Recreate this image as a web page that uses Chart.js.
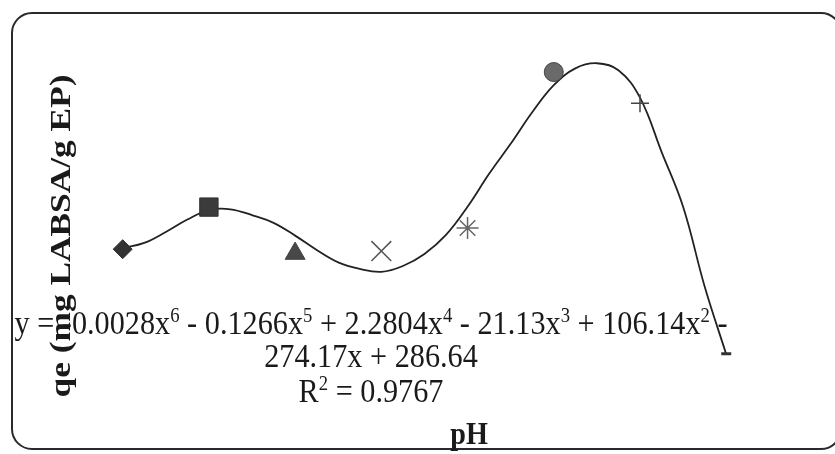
<!DOCTYPE html>
<html>
<head>
<meta charset="utf-8">
<script src="https://cdn.jsdelivr.net/npm/chart.js@4.4.1/dist/chart.umd.min.js"></script>
<style>
  html, body { margin: 0; padding: 0; background: #fff; }
  #wrap { position: relative; width: 835px; height: 454px; }
</style>
</head>
<body>
<div id="wrap"><canvas id="chart" width="835" height="454"></canvas></div>
<script>
// Экспериментальные точки: номер pH по порядку и qe
const phValues = [1, 2, 3, 4, 5, 6, 7, 8];
const qeValues = [4.64, 5.79, 4.52, 4.59, 5.22, 9.48, 8.63, 1.78];

// Линия тренда (полином 6-й степени)
const trendX = [1, 1.25, 1.5, 1.75, 2, 2.25, 2.5, 2.75, 3, 3.25, 3.5, 3.75, 4, 4.25, 4.5, 4.75,
  5, 5.25, 5.5, 5.75, 6, 6.25, 6.5, 6.75, 7, 7.25, 7.5, 7.75, 8];
const trendY = [4.67, 4.81, 5.11, 5.45, 5.71, 5.73, 5.57, 5.36, 5.01, 4.62, 4.28, 4.10, 4.02, 4.18, 4.51, 5.03,
  5.80, 6.70, 7.52, 8.38, 9.12, 9.58, 9.72, 9.53, 8.78, 7.30, 5.80, 3.62, 1.77];

// Подписи
const xTitle = "pH";
const yTitle = "qe (mg LABSA/g EP)";
const equationLines = [
  "y = -0.0028x^6 - 0.1266x^5 + 2.2804x^4 - 21.13x^3 + 106.14x^2 -",
  "274.17x + 286.64",
  "R^2 = 0.9767"
];

// Маркеры как в Excel: ромб, квадрат, треугольник, x, звезда, круг, плюс, тире
const markerStyles = [
  { style: "rectRot",  r: 9.5,  fill: "#333", stroke: "#333", w: 1 },
  { style: "rect",     r: 13,   fill: "#3b3b3b", stroke: "#333", w: 1 },
  { style: "triangle", r: 11.5, fill: "#484848", stroke: "#444", w: 1 },
  { style: "crossRot", r: 14,   fill: "#555", stroke: "#555", w: 1.5 },
  { style: "star",     r: 11,   fill: "#666", stroke: "#666", w: 1.5 },
  { style: "circle",   r: 9.5,  fill: "#6a6a6a", stroke: "#444", w: 1 },
  { style: "cross",    r: 9,    fill: "#444", stroke: "#444", w: 1.5 },
  { style: "line",     r: 5,    fill: "#333", stroke: "#333", w: 3 }
];

const FONT = "'Liberation Serif', 'Times New Roman', serif";

// Ширина текста с верхними индексами
function richWidth(ctx, text, size) {
  const parts = text.split(/\^(\d)/);
  const supSize = Math.round(size * 0.62);
  let w = 0;
  parts.forEach((p, i) => {
    ctx.font = (i % 2 ? supSize : size) + "px " + FONT;
    w += ctx.measureText(p).width;
  });
  return w;
}

// Текст с верхними индексами: "x^6" -> x⁶
function drawRich(ctx, text, cx, baseline, size, sx) {
  const parts = text.split(/\^(\d)/);
  const supSize = Math.round(size * 0.62);
  const w = richWidth(ctx, text, size);
  ctx.save();
  ctx.translate(cx, baseline);
  ctx.scale(sx, 1);
  let x = -w / 2;
  parts.forEach((p, i) => {
    const sup = i % 2 === 1;
    ctx.font = (sup ? supSize : size) + "px " + FONT;
    ctx.fillText(p, x, sup ? -size * 0.36 : 0);
    x += ctx.measureText(p).width;
  });
  ctx.restore();
}

const framePlugin = {
  id: "frame",
  beforeDraw(chart) {
    const ctx = chart.ctx;
    ctx.save();
    ctx.fillStyle = "#fff";
    ctx.fillRect(0, 0, chart.width, chart.height);
    ctx.strokeStyle = "#2a2a2a";
    ctx.lineWidth = 2;
    ctx.beginPath();
    ctx.roundRect(12, 13, 829, 436, 20);
    ctx.stroke();
    ctx.restore();
  },
  afterDraw(chart) {
    const ctx = chart.ctx;
    ctx.save();
    ctx.fillStyle = "#1a1a1a";
    ctx.textAlign = "left";
    ctx.textBaseline = "alphabetic";

    // уравнение тренда, первая строка задаёт сжатие по ширине
    const size = 34;
    const sx = 713 / richWidth(ctx, equationLines[0], size);
    const baselines = [334, 367, 402];
    equationLines.forEach((line, i) => drawRich(ctx, line, 371, baselines[i], size, sx));

    // подпись оси X
    ctx.font = "bold 32px " + FONT;
    ctx.textAlign = "center";
    ctx.textBaseline = "middle";
    ctx.save();
    ctx.translate(469, 436);
    ctx.scale(0.88, 1);
    ctx.fillText(xTitle, 0, 0);
    ctx.restore();

    // подпись оси Y (повернута)
    ctx.font = "bold 34px " + FONT;
    const yw = ctx.measureText(yTitle).width;
    ctx.save();
    ctx.translate(62, 236);
    ctx.rotate(-Math.PI / 2);
    ctx.scale(323 / yw, 0.88);
    ctx.fillText(yTitle, 0, 0);
    ctx.restore();

    ctx.restore();
  }
};

const datasets = phValues.map((ph, i) => {
  const m = markerStyles[i];
  return {
    label: "pH " + ph,
    data: [{ x: ph, y: qeValues[i] }],
    showLine: false,
    pointStyle: m.style,
    pointRadius: m.r,
    pointBackgroundColor: m.fill,
    pointBorderColor: m.stroke,
    pointBorderWidth: m.w,
    order: 1
  };
});

datasets.push({
  label: "Poly. (qe)",
  data: trendX.map((x, i) => ({ x, y: trendY[i] })),
  showLine: true,
  borderColor: "#222",
  borderWidth: 1.8,
  pointRadius: 0,
  tension: 0.4,
  order: 2
});

new Chart(document.getElementById("chart").getContext("2d"), {
  type: "scatter",
  data: { datasets },
  options: {
    responsive: false,
    animation: false,
    layout: { padding: { left: 80, right: 10, top: 53, bottom: 35 } },
    plugins: { legend: { display: false }, tooltip: { enabled: false } },
    scales: {
      x: { type: "linear", min: 0.505, max: 9.082, display: false },
      y: { type: "linear", min: 0, max: 10, display: false }
    }
  },
  plugins: [framePlugin]
});
</script>
</body>
</html>
